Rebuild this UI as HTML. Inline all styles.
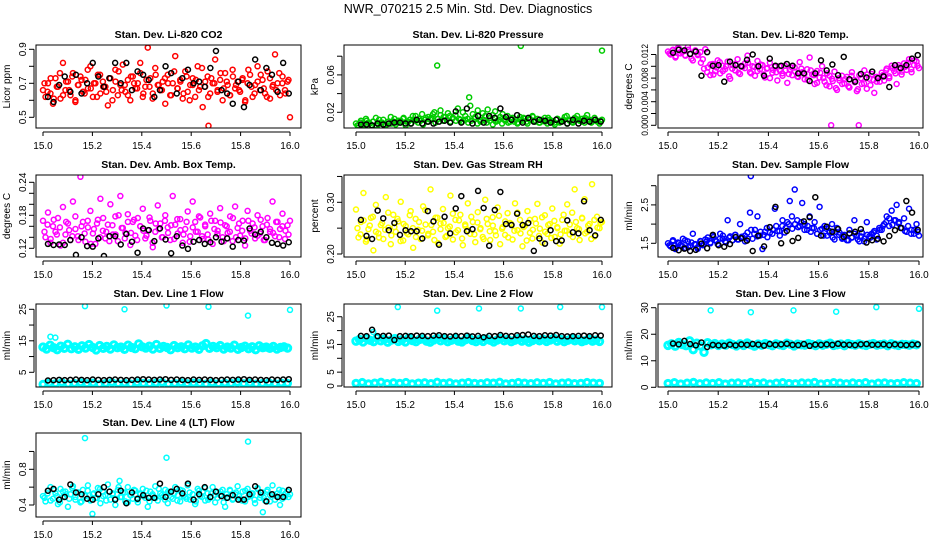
<!DOCTYPE html>
<html><head><meta charset="utf-8"><style>
html,body{margin:0;padding:0;background:#fff;}
svg{display:block;font-family:"Liberation Sans",sans-serif;}
</style></head><body>
<svg id="chart" width="936" height="540" viewBox="0 0 936 540" xmlns="http://www.w3.org/2000/svg">
<text x="468" y="13" text-anchor="middle" font-size="12.5">NWR_070215  2.5 Min. Std. Dev. Diagnostics</text>
</svg>
<script>
// ---------- data ----------
const xTicks = [15.0,15.2,15.4,15.6,15.8,16.0];
const xTickLabels = ["15.0","15.2","15.4","15.6","15.8","16.0"];

const co2Red = [0.66,0.62,0.70,0.64,0.58,0.73,0.68,0.61,0.82,0.66,0.71,0.63,0.76,0.60,0.69,0.74,0.65,0.72,0.67,0.80,0.62,0.70,0.75,0.64,0.71,0.68,0.57,0.73,0.66,0.78,0.63,0.69,0.81,0.65,0.72,0.60,0.74,0.67,0.70,0.76,0.62,0.68,0.91,0.73,0.64,0.79,0.69,0.66,0.71,0.58,0.75,0.63,0.70,0.86,0.67,0.72,0.61,0.77,0.65,0.69,0.73,0.62,0.80,0.68,0.56,0.71,0.74,0.64,0.70,0.84,0.66,0.72,0.60,0.76,0.69,0.63,0.78,0.67,0.71,0.65,0.73,0.59,0.70,0.75,0.62,0.69,0.80,0.66,0.72,0.64,0.77,0.61,0.68,0.87,0.70,0.63,0.74,0.66,0.71,0.50];
const co2Red2 = [0.70,0.65,0.73,0.61,0.68,0.76,0.63,0.71,0.66,0.74,0.59,0.69,0.72,0.64,0.78,0.67,0.70,0.62,0.75,0.68,0.65,0.73,0.60,0.71,0.77,0.66,0.69,0.63,0.74,0.70,0.67,0.82,0.64,0.72,0.68,0.61,0.75,0.69,0.66,0.73,0.70,0.63,0.77,0.67,0.71,0.64,0.74,0.60,0.69,0.72,0.66,0.79,0.68,0.62,0.73,0.70,0.65,0.76,0.67,0.71,0.63,0.74,0.69,0.66,0.72,0.60,0.78,0.68,0.64,0.71,0.75,0.67,0.62,0.73,0.69,0.66,0.76,0.70,0.64,0.72];
const co2Black = [0.62,0.59,0.69,0.74,0.65,0.75,0.64,0.70,0.82,0.74,0.68,0.73,0.82,0.70,0.82,0.66,0.77,0.75,0.72,0.62,0.66,0.80,0.76,0.64,0.73,0.78,0.70,0.71,0.68,0.79,0.89,0.66,0.64,0.58,0.71,0.56,0.69,0.84,0.66,0.79,0.75,0.65,0.82,0.64];
const co2OutT = [15.67]; const co2OutV = [0.45];

const presGreen = [0.008,0.006,0.011,0.007,0.013,0.009,0.006,0.010,0.014,0.007,0.009,0.012,0.006,0.008,0.015,0.010,0.007,0.011,0.009,0.013,0.006,0.010,0.008,0.012,0.016,0.009,0.011,0.007,0.014,0.010,0.012,0.018,0.009,0.013,0.022,0.011,0.015,0.019,0.010,0.014,0.017,0.024,0.012,0.020,0.016,0.013,0.027,0.018,0.015,0.022,0.012,0.019,0.016,0.023,0.014,0.017,0.021,0.011,0.015,0.018,0.013,0.016,0.010,0.014,0.012,0.009,0.015,0.011,0.013,0.008,0.012,0.016,0.010,0.013,0.009,0.011,0.014,0.008,0.012,0.010,0.007,0.013,0.009,0.011,0.015,0.008,0.012,0.010,0.014,0.016,0.011,0.013,0.009,0.017,0.012,0.010,0.014,0.011,0.008,0.012];
const presGreen2 = [0.006,0.009,0.007,0.011,0.008,0.010,0.006,0.012,0.009,0.007,0.010,0.008,0.013,0.009,0.011,0.014,0.010,0.012,0.016,0.011,0.013,0.018,0.012,0.015,0.014,0.020,0.013,0.017,0.015,0.012,0.016,0.014,0.011,0.013,0.010,0.012,0.009,0.011,0.013,0.008,0.010,0.012,0.009,0.011,0.007,0.010,0.012,0.008,0.011,0.009,0.013,0.010,0.008,0.012,0.014,0.010,0.013,0.015,0.011,0.009,0.012,0.010,0.014,0.011,0.009,0.013,0.010,0.012,0.016,0.011,0.009,0.013,0.012,0.010,0.014,0.011,0.009,0.012,0.010,0.011];
const presBlack = [0.007,0.007,0.006,0.008,0.007,0.008,0.009,0.009,0.008,0.008,0.012,0.008,0.010,0.008,0.010,0.011,0.009,0.021,0.009,0.024,0.008,0.016,0.009,0.016,0.014,0.024,0.015,0.012,0.017,0.009,0.014,0.010,0.012,0.011,0.009,0.012,0.010,0.008,0.012,0.008,0.011,0.010,0.012,0.010];
const presOutT = [15.33,15.46,15.67,16.0]; const presOutV = [0.070,0.036,0.091,0.086];

const tempMag = [0.0125,0.0120,0.0128,0.0115,0.0131,0.0122,0.0126,0.0118,0.0133,0.0121,0.0110,0.0127,0.0119,0.0124,0.0112,0.0129,0.0098,0.0085,0.0104,0.0092,0.0110,0.0088,0.0101,0.0095,0.0108,0.0079,0.0102,0.0093,0.0112,0.0087,0.0099,0.0105,0.0118,0.0090,0.0100,0.0084,0.0109,0.0095,0.0102,0.0081,0.0097,0.0106,0.0089,0.0099,0.0076,0.0093,0.0088,0.0101,0.0072,0.0094,0.0085,0.0098,0.0083,0.0107,0.0090,0.0078,0.0095,0.0115,0.0086,0.0070,0.0092,0.0081,0.0100,0.0074,0.0088,0.0066,0.0079,0.0091,0.0060,0.0076,0.0084,0.0071,0.0082,0.0064,0.0090,0.0077,0.0058,0.0085,0.0070,0.0093,0.0062,0.0079,0.0087,0.0055,0.0074,0.0081,0.0089,0.0076,0.0096,0.0083,0.0101,0.0092,0.0070,0.0098,0.0086,0.0105,0.0094,0.0112,0.0090,0.0102,0.0108,0.0097];
const tempMag2 = [0.0122,0.0127,0.0117,0.0130,0.0124,0.0119,0.0128,0.0113,0.0125,0.0121,0.0106,0.0096,0.0090,0.0103,0.0086,0.0098,0.0107,0.0092,0.0100,0.0083,0.0096,0.0104,0.0089,0.0101,0.0097,0.0106,0.0088,0.0099,0.0092,0.0103,0.0086,0.0096,0.0080,0.0094,0.0090,0.0100,0.0084,0.0093,0.0087,0.0098,0.0091,0.0082,0.0096,0.0087,0.0077,0.0093,0.0085,0.0072,0.0089,0.0080,0.0068,0.0084,0.0075,0.0063,0.0080,0.0070,0.0078,0.0066,0.0084,0.0073,0.0061,0.0080,0.0071,0.0086,0.0068,0.0077,0.0082,0.0074,0.0085,0.0093,0.0080,0.0097,0.0088,0.0102,0.0091,0.0099,0.0106,0.0095,0.0110,0.0101];
const tempBlack = [0.0123,0.0128,0.0127,0.0121,0.0125,0.0084,0.0124,0.0101,0.0102,0.0074,0.0108,0.0102,0.0100,0.0111,0.0120,0.0100,0.0084,0.0113,0.0101,0.0101,0.0104,0.0101,0.0088,0.0088,0.0075,0.0088,0.0110,0.0093,0.0103,0.0085,0.0116,0.0078,0.0074,0.0087,0.0081,0.0091,0.0080,0.0083,0.0065,0.0102,0.0097,0.0102,0.0113,0.0119];
const tempOutT = [15.65,15.76]; const tempOutV = [0.0,0.0];

const boxMag = [0.170,0.140,0.185,0.130,0.160,0.150,0.175,0.125,0.195,0.145,0.165,0.135,0.205,0.155,0.142,0.250,0.168,0.132,0.158,0.188,0.147,0.128,0.172,0.210,0.152,0.138,0.163,0.200,0.145,0.178,0.133,0.215,0.157,0.148,0.182,0.126,0.168,0.143,0.175,0.160,0.192,0.138,0.153,0.170,0.122,0.150,0.198,0.165,0.140,0.180,0.158,0.135,0.215,0.163,0.147,0.173,0.130,0.155,0.187,0.142,0.205,0.168,0.150,0.176,0.137,0.160,0.145,0.183,0.128,0.170,0.152,0.193,0.140,0.162,0.148,0.178,0.133,0.196,0.157,0.143,0.170,0.125,0.188,0.152,0.165,0.138,0.180,0.147,0.160,0.135,0.175,0.150,0.205,0.142,0.168,0.155,0.183,0.137,0.162,0.170];
const boxMag2 = [0.150,0.163,0.137,0.172,0.145,0.158,0.130,0.168,0.153,0.142,0.178,0.135,0.160,0.147,0.170,0.128,0.155,0.165,0.140,0.175,0.150,0.133,0.162,0.145,0.180,0.157,0.138,0.168,0.148,0.172,0.135,0.160,0.152,0.143,0.176,0.130,0.165,0.155,0.140,0.170,0.148,0.162,0.137,0.173,0.153,0.145,0.168,0.132,0.158,0.150,0.178,0.142,0.163,0.136,0.170,0.155,0.146,0.167,0.133,0.160,0.150,0.175,0.140,0.165,0.152,0.138,0.170,0.147,0.158,0.143,0.172,0.135,0.163,0.155,0.148,0.168,0.140,0.160,0.152,0.145];
const boxBlack = [0.128,0.126,0.127,0.126,0.135,0.108,0.140,0.124,0.123,0.138,0.106,0.142,0.142,0.127,0.146,0.132,0.112,0.156,0.153,0.133,0.156,0.136,0.111,0.142,0.125,0.119,0.132,0.135,0.128,0.131,0.140,0.132,0.138,0.123,0.135,0.134,0.156,0.145,0.150,0.140,0.130,0.128,0.125,0.131];

const rhYellow = [0.286,0.232,0.262,0.318,0.224,0.248,0.270,0.207,0.295,0.240,0.256,0.229,0.310,0.251,0.219,0.276,0.243,0.263,0.301,0.226,0.254,0.238,0.283,0.212,0.268,0.247,0.229,0.292,0.257,0.236,0.325,0.243,0.270,0.221,0.259,0.287,0.233,0.250,0.313,0.228,0.266,0.246,0.276,0.217,0.254,0.298,0.239,0.262,0.223,0.281,0.248,0.233,0.305,0.258,0.227,0.271,0.244,0.290,0.219,0.252,0.237,0.279,0.260,0.228,0.298,0.246,0.266,0.215,0.255,0.283,0.241,0.230,0.268,0.297,0.249,0.222,0.275,0.239,0.258,0.288,0.233,0.252,0.220,0.266,0.245,0.296,0.238,0.280,0.325,0.250,0.227,0.269,0.306,0.243,0.258,0.335,0.234,0.272,0.250,0.262];
const rhYellow2 = [0.250,0.238,0.265,0.228,0.255,0.272,0.243,0.232,0.260,0.247,0.280,0.236,0.252,0.268,0.225,0.258,0.241,0.275,0.250,0.233,0.262,0.245,0.285,0.239,0.256,0.227,0.270,0.248,0.260,0.235,0.253,0.278,0.242,0.265,0.230,0.257,0.246,0.272,0.238,0.261,0.250,0.229,0.268,0.244,0.255,0.236,0.274,0.249,0.263,0.232,0.258,0.245,0.280,0.240,0.252,0.226,0.266,0.247,0.259,0.235,0.271,0.243,0.256,0.231,0.264,0.250,0.238,0.276,0.245,0.257,0.233,0.262,0.248,0.270,0.240,0.255,0.229,0.266,0.251,0.260];
const rhBlack = [0.266,0.235,0.229,0.284,0.269,0.246,0.260,0.237,0.246,0.244,0.244,0.230,0.283,0.263,0.218,0.272,0.240,0.288,0.312,0.244,0.248,0.322,0.289,0.216,0.285,0.320,0.258,0.256,0.278,0.256,0.260,0.206,0.230,0.220,0.246,0.225,0.226,0.265,0.242,0.240,0.302,0.246,0.236,0.266];

const flowBlue = [1.50,1.42,1.58,1.35,1.52,1.46,1.62,1.38,1.55,1.44,1.75,1.48,1.40,1.56,1.45,1.60,1.65,1.52,1.70,1.58,1.48,1.75,1.62,1.55,2.10,1.68,1.58,1.72,1.60,2.00,1.66,1.55,1.78,2.30,1.62,1.85,2.20,1.70,1.35,1.80,1.66,1.92,1.75,2.40,1.82,1.70,1.95,1.78,2.05,2.60,1.88,2.90,2.10,1.95,2.55,2.00,1.85,2.20,1.90,2.05,1.75,2.45,1.88,1.95,1.70,1.82,2.00,1.60,1.90,1.78,1.65,1.72,1.58,1.85,1.65,2.10,1.70,1.55,1.78,1.62,2.05,1.68,1.75,1.82,1.60,1.90,1.85,2.00,2.20,1.95,2.35,2.10,2.50,2.05,1.90,2.15,1.80,2.40,1.85,1.75,2.00,1.70];
const flowBlue2 = [1.45,1.55,1.38,1.50,1.43,1.58,1.40,1.52,1.47,1.36,1.55,1.48,1.58,1.50,1.66,1.55,1.62,1.70,1.52,1.65,1.58,1.72,1.60,1.67,1.70,1.62,1.85,1.75,1.68,1.80,1.72,1.90,1.78,1.85,1.95,1.82,2.10,1.90,2.00,2.20,2.00,1.92,2.05,1.85,1.95,1.80,1.90,1.75,1.85,1.70,1.88,1.78,1.65,1.80,1.72,1.62,1.70,1.58,1.65,1.75,1.60,1.68,1.55,1.72,1.65,1.78,1.70,1.85,1.95,2.05,2.15,1.98,2.10,2.02,1.90,1.82,1.95,1.75,1.85,1.80];
const flowBlack = [1.38,1.32,1.36,1.30,1.33,1.49,1.37,1.72,1.45,1.41,1.48,1.66,1.63,1.57,1.30,1.70,1.42,1.92,2.45,1.50,1.82,1.56,1.64,2.07,2.18,2.70,1.70,1.93,1.80,1.87,1.67,1.76,1.80,1.87,1.52,1.58,1.62,1.55,1.69,1.84,1.90,2.60,2.30,1.85];
const flowOutT = [15.33]; const flowOutV = [3.25];

const l1Band = [13.0,12.4,13.6,12.8,12.2,13.3,12.6,13.9,12.5,13.1,12.3,13.4,12.7,13.8,12.9,12.1,13.5,12.6,13.2,12.4,13.7,12.8,13.0,12.3,13.6,12.9,12.5,14.0,13.1,12.7,13.3,12.4,13.8,12.6,13.2,12.9,12.2,13.5,12.8,13.1,12.5,13.7,12.7,13.0,12.3,13.4,14.1,12.6,13.2,12.8,13.5,12.4,13.0,12.7,13.6,12.3,12.9,13.3,12.5,13.1,12.2,13.4,12.8,13.0,12.6,13.2,12.4,12.9,13.1,12.7];
const l1Low = [1.2,1.6,1.4,1.8,1.3,1.5,1.7,1.4,1.6,1.2,1.5,1.8,1.4,1.6,1.3,1.7,1.5,1.4,1.6,1.8,1.3,1.5,1.7,1.4,1.6,1.5,1.3,1.7,1.4,1.6,1.5,1.8,1.4,1.6,1.3,1.5,1.7,1.4,1.6,1.5];
const l1Black = [2.4,2.5,2.6,2.5,2.6,2.7,2.6,2.5,2.7,2.6,2.5,2.6,2.7,2.6,2.5,2.6,2.7,2.8,2.7,2.6,2.7,2.8,2.6,2.7,2.6,2.5,2.7,2.6,2.7,2.6,2.5,2.6,2.7,2.6,2.7,2.8,2.6,2.7,2.6,2.5,2.7,2.6,2.7,2.8];
const l1OutT = [15.03,15.05,15.17,15.33,15.5,15.67,15.83,16.0]; const l1OutV = [16.3,16.0,26.0,25.0,26.2,25.8,23.0,24.8];

const l2Band = [16.2,16.8,15.9,17.2,16.5,16.0,17.4,16.3,16.9,15.8,16.6,17.1,16.1,16.7,15.9,17.3,16.4,16.0,16.8,17.0,16.2,15.8,16.6,17.2,16.3,16.9,16.0,16.5,17.1,16.2,15.9,16.7,17.3,16.4,16.0,16.8,16.1,17.0,16.5,15.9,16.6,17.2,16.3,16.8,16.0,16.5,17.1,16.2,16.7,15.8,16.4,17.0,16.3,16.9,16.1,16.6,17.2,16.2,16.8,16.0,16.5,17.1,16.3,16.7,16.0,16.4,16.9,16.2,16.6,16.1];
const l2Low = [1.0,1.3,0.8,1.1,1.4,0.9,1.2,1.0,1.3,0.8,1.1,1.2,0.9,1.4,1.0,1.2,0.8,1.1,1.3,1.0,0.9,1.2,1.1,1.4,0.8,1.0,1.3,1.1,0.9,1.2,1.0,1.3,0.8,1.1,1.2,0.9,1.0,1.3,1.1,1.0];
const l2Black = [18.1,18.0,20.3,18.0,18.1,18.2,16.6,18.0,18.1,18.0,18.2,18.1,18.0,18.2,18.3,18.0,17.9,18.1,18.0,18.2,17.9,18.1,17.6,18.1,18.0,18.4,18.1,18.0,18.3,18.4,18.6,18.1,18.0,18.3,18.2,18.4,18.0,17.9,18.0,18.1,18.2,18.0,18.3,18.2];
const l2OutT = [15.07,15.17,15.33,15.5,15.67,15.83,16.0]; const l2OutV = [19.5,28.5,27.2,28.0,28.0,28.5,28.5];

const l3Band = [15.8,16.4,15.5,16.9,16.1,15.7,17.5,14.2,16.6,15.6,13.2,16.8,16.0,16.5,15.8,16.3,15.9,16.6,16.1,15.6,16.4,15.8,16.7,16.0,15.5,16.3,15.9,16.5,16.1,15.7,16.4,16.0,15.8,16.6,16.2,15.6,16.3,16.0,15.9,16.5,16.1,15.7,16.4,15.9,16.2,16.6,15.8,16.0,16.3,15.7,16.5,16.1,15.9,16.4,16.0,15.8,16.2,16.5,15.9,16.1,16.3,15.7,16.4,16.0,15.8,16.2,16.1,15.9,16.3,16.0];
const l3Low = [1.5,1.8,1.3,1.6,1.9,1.4,1.7,1.5,1.8,1.3,1.6,1.7,1.4,1.9,1.5,1.7,1.3,1.6,1.8,1.5,1.4,1.7,1.6,1.9,1.3,1.5,1.8,1.6,1.4,1.7,1.5,1.8,1.3,1.6,1.7,1.4,1.5,1.8,1.6,1.5];
const l3Black = [16.5,16.2,17.5,16.3,15.8,16.9,15.2,16.0,15.8,15.7,16.1,15.8,16.2,16.0,16.3,16.1,15.7,16.3,16.0,16.2,16.4,16.0,15.9,16.3,15.6,16.1,16.0,16.2,16.0,16.4,16.1,16.0,15.9,16.2,16.3,16.0,16.1,16.2,15.9,16.2,16.0,15.9,16.1,16.2];
const l3OutT = [15.17,15.33,15.5,15.67,15.83,16.0]; const l3OutV = [29.0,28.3,29.0,28.5,30.2,29.6];

const l4Cyan = [0.50,0.44,0.56,0.60,0.47,0.53,0.41,0.58,0.49,0.55,0.38,0.52,0.61,0.46,0.54,0.43,0.57,0.50,0.62,0.45,0.52,0.48,0.59,0.42,0.55,0.51,0.63,0.46,0.53,0.40,0.57,0.49,0.54,0.44,0.60,0.51,0.47,0.56,0.43,0.52,0.58,0.48,0.38,0.55,0.50,0.61,0.45,0.53,0.49,0.57,0.42,0.54,0.47,0.60,0.51,0.44,0.56,0.49,0.62,0.46,0.52,0.41,0.58,0.50,0.55,0.45,0.53,0.48,0.60,0.43,0.54,0.51,0.57,0.38,0.49,0.56,0.46,0.52,0.61,0.47,0.55,0.44,0.58,0.50,0.53,0.42,0.59,0.48,0.54,0.45,0.57,0.51,0.62,0.46,0.53,0.40,0.56,0.49,0.55,0.52];
const l4Cyan2 = [0.48,0.53,0.45,0.57,0.50,0.43,0.55,0.52,0.47,0.59,0.49,0.54,0.44,0.51,0.56,0.46,0.53,0.48,0.58,0.50,0.45,0.55,0.52,0.47,0.60,0.49,0.54,0.43,0.51,0.57,0.46,0.53,0.50,0.56,0.44,0.52,0.48,0.58,0.51,0.46,0.55,0.49,0.53,0.45,0.57,0.50,0.47,0.54,0.52,0.44,0.56,0.49,0.59,0.46,0.53,0.51,0.48,0.55,0.43,0.52,0.57,0.47,0.54,0.50,0.45,0.56,0.49,0.53,0.46,0.58,0.51,0.48,0.55,0.44,0.52,0.50,0.57,0.47,0.53,0.49];
const l4Black = [0.56,0.58,0.46,0.49,0.63,0.54,0.52,0.47,0.46,0.52,0.60,0.55,0.46,0.56,0.42,0.54,0.47,0.51,0.48,0.48,0.64,0.49,0.55,0.58,0.53,0.64,0.46,0.52,0.60,0.49,0.55,0.50,0.48,0.51,0.46,0.46,0.52,0.61,0.54,0.44,0.52,0.49,0.49,0.57];
const l4OutT = [15.17,15.2,15.31,15.5,15.83,15.89]; const l4OutV = [1.15,0.30,0.67,0.93,1.11,0.32];

// ---------- drawing ----------
const NS = "http://www.w3.org/2000/svg";
const svg = document.getElementById("chart");
function mk(tag, attrs, parent){
  const e = document.createElementNS(NS, tag);
  for (const k in attrs) e.setAttribute(k, attrs[k]);
  (parent||svg).appendChild(e);
  return e;
}
function panel(p){
  const g = mk("g", {});
  
  
  const xs = t => p.x15 + (t - 15.0) * (p.x16 - p.x15);
  const ys = v => p.yRefPx + (v - p.yRef) * p.pxPer;
  const tf = p.tf || 10;
  const tt = mk("text", {x:(p.l+p.r)/2, y:p.t-7, "text-anchor":"middle", "font-size":"10.5", "font-weight":"bold"}, g);
  tt.textContent = p.title;
  
  
  const yl = mk("text", {transform:`translate(${p.l-26},${(p.t+p.b)/2}) rotate(-90)`, "text-anchor":"middle", "font-size":"10"}, g);
  yl.textContent = p.ylab;
  
  
  const clip = "clip-" + p.name;
  const cp = mk("clipPath", {id:clip}, g);
  mk("rect", {x:p.l, y:p.t, width:p.r-p.l, height:p.b-p.t}, cp);
  const pg = mk("g", {"clip-path":`url(#${clip})`}, g);
  
  
  p.series.forEach(s => {
    const n = s.v.length;
    s.v.forEach((v, i) => {
      const t = s.t ? s.t[i] : s.t0 + (n > 1 ? i / (n - 1) : 0) * (s.t1 - s.t0);
      const c = mk("circle", {cx:xs(t), cy:ys(v), r:s.r||2.5, fill:"none", stroke:s.c, "stroke-width":s.w||1.5}, pg);
      
      
    });
  });
  const bx = mk("rect", {x:p.l, y:p.t, width:p.r-p.l, height:p.b-p.t, fill:"none", stroke:"#000", "stroke-width":1}, g);
  
  
  const ay = p.b + 4;
  mk("line", {x1:xs(15.0), x2:xs(16.0), y1:ay, y2:ay, stroke:"#000"}, g);
  xTicks.forEach((t, i) => {
    mk("line", {x1:xs(t), x2:xs(t), y1:ay, y2:ay+4, stroke:"#000"}, g);
    const lt = mk("text", {x:xs(t), y:ay+17, "text-anchor":"middle", "font-size":"10"}, g);
    lt.textContent = xTickLabels[i];
    
    
  });
  const ax = p.l - 2;
  mk("line", {x1:ax, x2:ax, y1:ys(p.yt[0]), y2:ys(p.yt[p.yt.length-1]), stroke:"#000"}, g);
  p.yt.forEach((v, i) => {
    mk("line", {x1:ax-5, x2:ax, y1:ys(v), y2:ys(v), stroke:"#000"}, g);
    if (p.ytl[i]) {
      const attrs = {transform:`translate(${ax-8},${ys(v)}) rotate(-90)`, "text-anchor":"middle", "font-size":tf};
      if (p.tw) { attrs.textLength = p.tw; attrs.lengthAdjust = "spacingAndGlyphs"; }
      const lt = mk("text", attrs, g);
      lt.textContent = p.ytl[i];
      
      
    }
  });
}
const C1 = {l:36, r:301, x15:43, x16:290};
const C2 = {l:344, r:612, x15:356, x16:602};
const C3 = {l:658, r:923, x15:668, x16:919};
const R1 = {t:45, b:128}, R2 = {t:175, b:257}, R3 = {t:304, b:387}, R4 = {t:433, b:517};
const BT0 = 15.02, BT1 = 15.995, A0 = 15.0, A1 = 16.0, B0 = 15.006, B1 = 15.994;

panel(Object.assign({name:"co2", title:"Stan. Dev. Li-820 CO2", ylab:"Licor ppm", yRef:0.5, yRefPx:117.3, pxPer:-170,
  yt:[0.5,0.6,0.7,0.8,0.9], ytl:["0.5","","0.7","","0.9"],
  series:[{id:"red",v:co2Red,c:"#ff0000",t0:A0,t1:A1},{id:"red-b",v:co2Red2,c:"#ff0000",t0:B0,t1:B1},{id:"red-outlier",v:co2OutV,t:co2OutT,c:"#ff0000"},{id:"black",v:co2Black,c:"#000",t0:BT0,t1:BT1}]}, C1, R1));
panel(Object.assign({name:"pressure", title:"Stan. Dev. Li-820 Pressure", ylab:"kPa", yRef:0.02, yRefPx:112.3, pxPer:-935,
  yt:[0.02,0.04,0.06,0.08], ytl:["0.02","","0.06",""],
  series:[{id:"green",v:presGreen,c:"#00cc00",t0:A0,t1:A1},{id:"green-b",v:presGreen2,c:"#00cc00",t0:B0,t1:B1},{id:"green-outlier",v:presOutV,t:presOutT,c:"#00cc00"},{id:"black",v:presBlack,c:"#000",t0:BT0,t1:BT1}]}, C2, R1));
panel(Object.assign({name:"temp", title:"Stan. Dev. Li-820 Temp.", ylab:"degrees C", yRef:0.0, yRefPx:125.3, pxPer:-5900, tf:9, tw:21,
  yt:[0,0.002,0.004,0.006,0.008,0.010,0.012], ytl:["0.000","","0.004","","0.008","","0.012"],
  series:[{id:"magenta",v:tempMag,c:"#ff00ff",t0:A0,t1:A1},{id:"magenta-b",v:tempMag2,c:"#ff00ff",t0:B0,t1:B1},{id:"magenta-outlier",v:tempOutV,t:tempOutT,c:"#ff00ff"},{id:"black",v:tempBlack,c:"#000",t0:BT0,t1:BT1}]}, C3, R1));
panel(Object.assign({name:"ambbox", title:"Stan. Dev. Amb. Box Temp.", ylab:"degrees C", yRef:0.12, yRefPx:248.3, pxPer:-550,
  yt:[0.12,0.14,0.16,0.18,0.20,0.22,0.24], ytl:["0.12","","","0.18","","","0.24"],
  series:[{id:"magenta",v:boxMag,c:"#ff00ff",t0:A0,t1:A1},{id:"magenta-b",v:boxMag2,c:"#ff00ff",t0:B0,t1:B1},{id:"black",v:boxBlack,c:"#000",t0:BT0,t1:BT1}]}, C1, R2));
panel(Object.assign({name:"rh", title:"Stan. Dev. Gas Stream RH", ylab:"percent", yRef:0.20, yRefPx:254, pxPer:-517,
  yt:[0.20,0.25,0.30,0.35], ytl:["0.20","","0.30",""],
  series:[{id:"yellow",v:rhYellow,c:"#ffff00",t0:A0,t1:A1},{id:"yellow-b",v:rhYellow2,c:"#ffff00",t0:B0,t1:B1},{id:"black",v:rhBlack,c:"#000",t0:BT0,t1:BT1}]}, C2, R2));
panel(Object.assign({name:"sampleflow", title:"Stan. Dev. Sample Flow", ylab:"ml/min", yRef:1.5, yRefPx:243.3, pxPer:-38.4,
  yt:[1.5,2.0,2.5,3.0], ytl:["1.5","","2.5",""],
  series:[{id:"blue",v:flowBlue,c:"#0000ff",t0:A0,t1:A1},{id:"blue-b",v:flowBlue2,c:"#0000ff",t0:B0,t1:B1},{id:"blue-outlier",v:flowOutV,t:flowOutT,c:"#0000ff"},{id:"black",v:flowBlack,c:"#000",t0:BT0,t1:BT1}]}, C3, R2));
panel(Object.assign({name:"line1", title:"Stan. Dev. Line 1 Flow", ylab:"ml/min", yRef:5, yRefPx:372.3, pxPer:-3.15,
  yt:[5,10,15,20,25], ytl:["5","","15","","25"],
  series:[{id:"cyan-band",v:l1Band,c:"#00ffff",t0:15.0,t1:15.99,r:3.2,w:3},{id:"cyan-low",v:l1Low,c:"#00ffff",t0:15.0,t1:15.99,r:3,w:3},{id:"cyan-outlier",v:l1OutV,t:l1OutT,c:"#00ffff"},{id:"black",v:l1Black,c:"#000",t0:BT0,t1:BT1}]}, C1, R3));
panel(Object.assign({name:"line2", title:"Stan. Dev. Line 2 Flow", ylab:"ml/min", yRef:0, yRefPx:386, pxPer:-2.77,
  yt:[0,5,10,15,20,25], ytl:["0","5","","15","","25"],
  series:[{id:"cyan-band",v:l2Band,c:"#00ffff",t0:15.0,t1:15.99,r:3.2,w:3},{id:"cyan-low",v:l2Low,c:"#00ffff",t0:15.0,t1:15.99,r:3,w:3},{id:"cyan-outlier",v:l2OutV,t:l2OutT,c:"#00ffff"},{id:"black",v:l2Black,c:"#000",t0:BT0,t1:BT1}]}, C2, R3));
panel(Object.assign({name:"line3", title:"Stan. Dev. Line 3 Flow", ylab:"ml/min", yRef:0, yRefPx:387.3, pxPer:-2.653,
  yt:[0,10,20,30], ytl:["0","10","20","30"],
  series:[{id:"cyan-band",v:l3Band,c:"#00ffff",t0:15.0,t1:15.99,r:3.2,w:3},{id:"cyan-low",v:l3Low,c:"#00ffff",t0:15.0,t1:15.99,r:3,w:3},{id:"cyan-outlier",v:l3OutV,t:l3OutT,c:"#00ffff"},{id:"black",v:l3Black,c:"#000",t0:BT0,t1:BT1}]}, C3, R3));
panel(Object.assign({name:"line4", title:"Stan. Dev. Line 4 (LT) Flow", ylab:"ml/min", yRef:0.4, yRefPx:505, pxPer:-89.25,
  yt:[0.4,0.6,0.8,1.0], ytl:["0.4","","0.8",""],
  series:[{id:"cyan",v:l4Cyan,c:"#00ffff",t0:A0,t1:A1},{id:"cyan-b",v:l4Cyan2,c:"#00ffff",t0:B0,t1:B1},{id:"cyan-outlier",v:l4OutV,t:l4OutT,c:"#00ffff"},{id:"black",v:l4Black,c:"#000",t0:BT0,t1:BT1}]}, C1, R4));
</script>
</body></html>
